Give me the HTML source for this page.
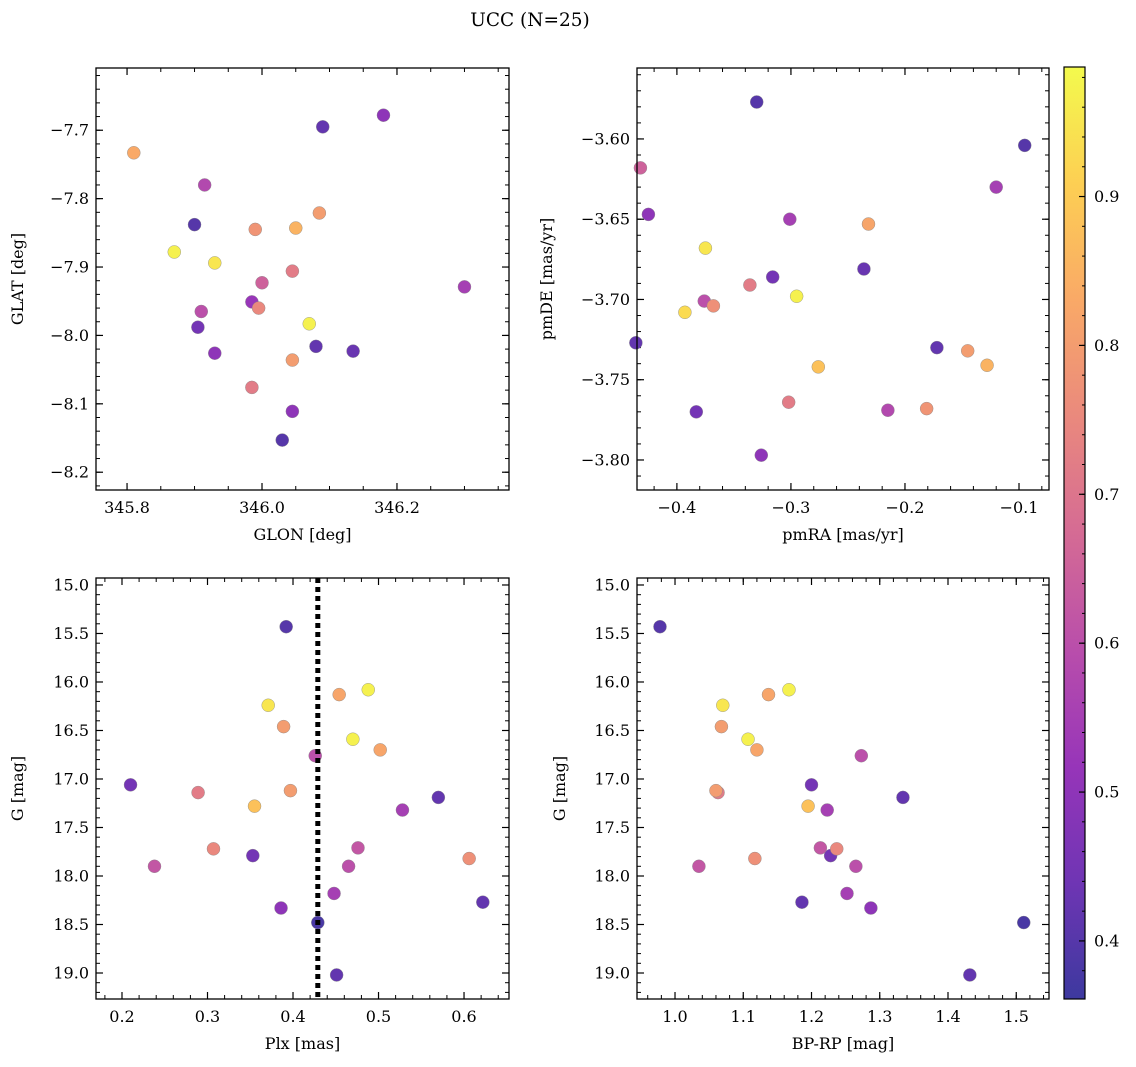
<!DOCTYPE html>
<html><head><meta charset="utf-8">
<style>
body{margin:0;background:#fff;}
svg{display:block;font-family:"DejaVu Serif","Liberation Serif",serif;}
</style></head>
<body>
<svg id="fig" width="1136" height="1067" viewBox="0 0 1136 1067">
<text x="530" y="26" font-size="18.5" text-anchor="middle">UCC (N=25)</text>
</svg>
<script>
// Panel 1: GLON vs GLAT
const p1x=[345.81,346.09,346.18,345.915,345.90,345.99,346.05,346.085,345.87,345.93,346.045,346.30,346.00,345.985,345.91,345.995,346.07,345.905,346.08,346.135,345.93,346.045,345.985,346.045,346.03];
const p1y=[-7.733,-7.695,-7.678,-7.780,-7.838,-7.845,-7.843,-7.821,-7.878,-7.894,-7.906,-7.929,-7.923,-7.951,-7.965,-7.960,-7.983,-7.988,-8.016,-8.023,-8.026,-8.036,-8.076,-8.111,-8.153];
const p1c=[0.83,0.42,0.5,0.58,0.40,0.78,0.85,0.80,0.97,0.95,0.72,0.55,0.65,0.52,0.6,0.75,0.97,0.45,0.42,0.43,0.5,0.8,0.72,0.5,0.4];
// Panel 2: pmRA vs pmDE
const p2x=[-0.330,-0.095,-0.432,-0.120,-0.425,-0.301,-0.232,-0.375,-0.316,-0.236,-0.336,-0.295,-0.376,-0.368,-0.393,-0.436,-0.172,-0.145,-0.128,-0.276,-0.302,-0.383,-0.215,-0.181,-0.326];
const p2y=[-3.577,-3.604,-3.618,-3.630,-3.647,-3.650,-3.653,-3.668,-3.686,-3.681,-3.691,-3.698,-3.701,-3.704,-3.708,-3.727,-3.730,-3.732,-3.741,-3.742,-3.764,-3.770,-3.769,-3.768,-3.797];
const p2c=[0.4,0.4,0.65,0.55,0.5,0.55,0.82,0.95,0.45,0.43,0.72,0.97,0.6,0.77,0.93,0.42,0.42,0.8,0.85,0.88,0.72,0.45,0.58,0.78,0.5];
// Panel 3: Plx vs G
const p3x=[0.392,0.488,0.454,0.371,0.389,0.470,0.502,0.426,0.210,0.289,0.397,0.570,0.355,0.528,0.307,0.476,0.353,0.606,0.238,0.465,0.448,0.622,0.386,0.429,0.451];
const gmag=[15.43,16.08,16.13,16.24,16.46,16.59,16.70,16.76,17.06,17.14,17.12,17.19,17.28,17.32,17.72,17.71,17.79,17.82,17.90,17.90,18.18,18.27,18.33,18.48,19.02];
const gcol=[0.4,0.97,0.82,0.95,0.8,0.97,0.82,0.6,0.45,0.72,0.8,0.42,0.88,0.55,0.75,0.62,0.45,0.77,0.62,0.6,0.55,0.42,0.5,0.38,0.42];
const plxLine=[0.429];
// Panel 4: BP-RP vs G
const p4x=[0.978,1.167,1.137,1.070,1.068,1.107,1.120,1.273,1.200,1.063,1.060,1.334,1.195,1.223,1.237,1.213,1.228,1.117,1.035,1.265,1.252,1.186,1.287,1.511,1.432];
// Ticks
const t1x=[345.8,346.0,346.2], t1y=[-7.7,-7.8,-7.9,-8.0,-8.1,-8.2];
const t2x=[-0.4,-0.3,-0.2,-0.1], t2y=[-3.60,-3.65,-3.70,-3.75,-3.80];
const t3x=[0.2,0.3,0.4,0.5,0.6], tG=[15.0,15.5,16.0,16.5,17.0,17.5,18.0,18.5,19.0];
const t4x=[1.0,1.1,1.2,1.3,1.4,1.5];
const tcb=[0.4,0.5,0.6,0.7,0.8,0.9];

const NS="http://www.w3.org/2000/svg";
const fig=document.getElementById('fig');
function mk(tag,attrs,parent){const e=document.createElementNS(NS,tag);for(const k in attrs)e.setAttribute(k,attrs[k]);(parent||fig).appendChild(e);return e;}
const stops=[[0,13,8,135],[0.125,75,3,161],[0.25,125,3,168],[0.375,168,34,150],[0.5,203,70,121],[0.625,229,107,93],[0.75,248,148,65],[0.875,253,195,40],[1,240,249,33]];
const ALPHA=0.8;
const cmin=0.361,cmax=0.987;
function blend(r,g,b){return `rgb(${Math.round(r*ALPHA+255*(1-ALPHA))},${Math.round(g*ALPHA+255*(1-ALPHA))},${Math.round(b*ALPHA+255*(1-ALPHA))})`;}
function cmap(v){let t=(v-cmin)/(cmax-cmin);t=Math.max(0,Math.min(1,t));for(let i=1;i<stops.length;i++){if(t<=stops[i][0]){const a=stops[i-1],b=stops[i];const f=(t-a[0])/(b[0]-a[0]);return blend(a[1]+f*(b[1]-a[1]),a[2]+f*(b[2]-a[2]),a[3]+f*(b[3]-a[3]));}}return blend(240,249,33);}
function fmt(v,d){return v.toFixed(d).replace('-','\u2212');}

function panel(o){
  const {L,R,T,B,x0,x1,y0,y1,xt,yt,xd,yd,xmin,ymin,xl,yl,xs,ys,cs,name}=o;
  const sx=v=>L+(v-x0)/(x1-x0)*(R-L), sy=v=>T+(v-y0)/(y1-y0)*(B-T);
  const g=mk('g',{});
  
  
  const lo=Math.min(x0,x1),hi=Math.max(x0,x1);
  for(let k=Math.ceil(lo/xmin-1e-6);k*xmin<=hi+1e-9;k++){const v=k*xmin,x=sx(v);mk('line',{x1:x,x2:x,y1:B,y2:B-4,stroke:'#000','stroke-width':1},g);mk('line',{x1:x,x2:x,y1:T,y2:T+4,stroke:'#000','stroke-width':1},g);}
  const ylo=Math.min(y0,y1),yhi=Math.max(y0,y1);
  for(let k=Math.ceil(ylo/ymin-1e-6);k*ymin<=yhi+1e-9;k++){const v=k*ymin,y=sy(v);mk('line',{x1:L,x2:L+4,y1:y,y2:y,stroke:'#000','stroke-width':1},g);mk('line',{x1:R,x2:R-4,y1:y,y2:y,stroke:'#000','stroke-width':1},g);}
  xt.forEach(v=>{const x=sx(v);mk('line',{x1:x,x2:x,y1:B,y2:B-7,stroke:'#000','stroke-width':1.2},g);mk('line',{x1:x,x2:x,y1:T,y2:T+7,stroke:'#000','stroke-width':1.2},g);
    const t=mk('text',{x:x,y:B+23,'font-size':16,'text-anchor':'middle'},g);t.textContent=fmt(v,xd);
    });
  yt.forEach(v=>{const y=sy(v);mk('line',{x1:L,x2:L+7,y1:y,y2:y,stroke:'#000','stroke-width':1.2},g);mk('line',{x1:R,x2:R-7,y1:y,y2:y,stroke:'#000','stroke-width':1.2},g);
    const t=mk('text',{x:L-7,y:y+5.5,'font-size':16,'text-anchor':'end'},g);t.textContent=fmt(v,yd);
    });
  const xlab=mk('text',{x:(L+R)/2,y:B+50,'font-size':16,'text-anchor':'middle'},g);xlab.textContent=xl;
  
  const yx=o.ylx, yy=(T+B)/2;
  const ylab=mk('text',{x:yx,y:yy,'font-size':16,'text-anchor':'middle',transform:`rotate(-90 ${yx} ${yy})`},g);ylab.textContent=yl;
  
  const idx=xs.map((_,i)=>i).sort((a,b)=>cs[a]-cs[b]);
  idx.forEach(i=>{const c=mk('circle',{cx:sx(xs[i]),cy:sy(ys[i]),r:6.5,fill:cmap(cs[i]),stroke:'#888','stroke-width':0.4},g);
    });
  if(o.vline){o.vline.forEach(v=>{const l=mk('line',{x1:sx(v),x2:sx(v),y1:T,y2:B,stroke:'#000','stroke-width':5,'stroke-dasharray':'5,4'},g);
    });}
  const fr=mk('rect',{x:L,y:T,width:R-L,height:B-T,fill:'none',stroke:'#000','stroke-width':1.3},g);
  
}
panel({name:'panel-glon-glat',L:96,R:509,T:68,B:490,x0:345.754,x1:346.366,y0:-7.609,y1:-8.226,xt:t1x,yt:t1y,xd:1,yd:1,xmin:0.05,ymin:0.02,xl:'GLON [deg]',yl:'GLAT [deg]',ylx:23,xs:p1x,ys:p1y,cs:p1c});
panel({name:'panel-pmra-pmde',L:637,R:1049,T:68,B:490,x0:-0.435,x1:-0.0737,y0:-3.5558,y1:-3.8187,xt:t2x,yt:t2y,xd:1,yd:2,xmin:0.02,ymin:0.01,xl:'pmRA [mas/yr]',yl:'pmDE [mas/yr]',ylx:552,xs:p2x,ys:p2y,cs:p2c});
panel({name:'panel-plx-g',L:96,R:509,T:578,B:999,x0:0.1696,x1:0.6526,y0:14.928,y1:19.268,xt:t3x,yt:tG,xd:1,yd:1,xmin:0.02,ymin:0.1,xl:'Plx [mas]',yl:'G [mag]',ylx:23,xs:p3x,ys:gmag,cs:gcol,vline:plxLine});
panel({name:'panel-bprp-g',L:637,R:1049,T:578,B:999,x0:0.9443,x1:1.548,y0:14.928,y1:19.268,xt:t4x,yt:tG,xd:1,yd:1,xmin:0.02,ymin:0.1,xl:'BP-RP [mag]',yl:'G [mag]',ylx:565,xs:p4x,ys:gmag,cs:gcol});
// colorbar
const cb=mk('g',{});


const defs=mk('defs',{},cb);
const lg=mk('linearGradient',{id:'cbg',x1:0,y1:1,x2:0,y2:0},defs);
stops.forEach(s=>mk('stop',{offset:s[0],'stop-color':blend(s[1],s[2],s[3])},lg));
const CT=67,CB=999,CL=1064,CR=1085;
mk('rect',{x:CL,y:CT,width:CR-CL,height:CB-CT,fill:'url(#cbg)',stroke:'#000','stroke-width':1.2},cb);
const cy=v=>CB-(v-cmin)/(cmax-cmin)*(CB-CT);
for(let k=Math.ceil(cmin/0.02);k*0.02<=cmax;k++){const y=cy(k*0.02);mk('line',{x1:CR,x2:CR-3,y1:y,y2:y,stroke:'#000','stroke-width':1},cb);}
tcb.forEach(v=>{const y=cy(v);mk('line',{x1:CR,x2:CR-6,y1:y,y2:y,stroke:'#000','stroke-width':1.2},cb);
  const t=mk('text',{x:CR+9,y:y+5.5,'font-size':16},cb);t.textContent=v.toFixed(1);
  });
</script>
</body></html>
